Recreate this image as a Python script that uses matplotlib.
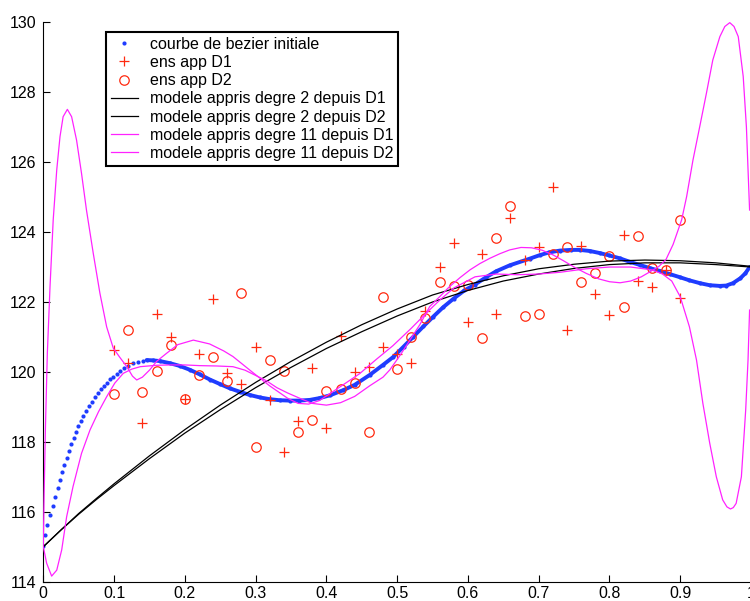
import numpy as np
import matplotlib
matplotlib.use("Agg")
import matplotlib.pyplot as plt

plt.rcParams['font.family'] = ['Liberation Sans', 'DejaVu Sans']

# --- Bezier curve ---
bez_x = [0.0, 0.0024, 0.0056, 0.0095, 0.0133, 0.0169, 0.0203, 0.0236, 0.0264, 0.0297,
         0.0331, 0.0367, 0.0395, 0.0429, 0.0462, 0.0494, 0.0527, 0.0565, 0.0603, 0.0641,
         0.0684, 0.0726, 0.0768, 0.0811, 0.0853, 0.0895, 0.0942, 0.0989, 0.1037, 0.1083,
         0.114, 0.1201, 0.1271, 0.1342, 0.1412, 0.146,
         0.1554, 0.1648, 0.179, 0.193, 0.2072, 0.221, 0.2355, 0.25, 0.2637, 0.278,
         0.2919, 0.306, 0.3202, 0.334, 0.3484, 0.362, 0.3767, 0.39, 0.405, 0.424,
         0.44, 0.461, 0.48, 0.494, 0.509, 0.523, 0.537, 0.551, 0.565, 0.58,
         0.595, 0.61, 0.625, 0.64, 0.6592, 0.6874, 0.7015, 0.715, 0.7298, 0.745,
         0.758, 0.772, 0.7863, 0.80, 0.8145, 0.8286, 0.8428, 0.857, 0.871, 0.885,
         0.8993, 0.913, 0.9275, 0.9416, 0.9558, 0.965, 0.9746, 0.985, 0.992, 0.9981]
bez_y = [115.02, 115.33, 115.62, 115.91, 116.16, 116.43, 116.67, 116.91, 117.13, 117.34,
         117.55, 117.75, 117.94, 118.12, 118.29, 118.45, 118.60, 118.75, 118.88, 119.02,
         119.15, 119.27, 119.39, 119.50, 119.60, 119.69, 119.79, 119.86, 119.94, 120.02,
         120.10, 120.18, 120.25, 120.29, 120.32, 120.34,
         120.33, 120.31, 120.25, 120.17, 120.06, 119.93, 119.78, 119.65, 119.53, 119.43,
         119.34, 119.27, 119.22, 119.19, 119.18, 119.18, 119.20, 119.25, 119.33, 119.48,
         119.63, 119.91, 120.20, 120.42, 120.72, 121.01, 121.30, 121.58, 121.85, 122.10,
         122.33, 122.50, 122.70, 122.88, 123.05, 123.24, 123.34, 123.42, 123.47, 123.49,
         123.49, 123.46, 123.40, 123.33, 123.25, 123.15, 123.06, 122.97, 122.89, 122.80,
         122.71, 122.62, 122.54, 122.48, 122.46, 122.47, 122.54, 122.68, 122.82, 123.00]

# --- training sets ---
app_x = [0.10, 0.12, 0.14, 0.16, 0.18, 0.20, 0.22, 0.24, 0.26, 0.28, 0.30, 0.32, 0.34, 0.36,
         0.38, 0.40, 0.42, 0.44, 0.46, 0.48, 0.50, 0.52, 0.54, 0.56, 0.58, 0.60, 0.62, 0.64,
         0.66, 0.68, 0.70, 0.72, 0.74, 0.76, 0.78, 0.80, 0.82, 0.84, 0.86, 0.88, 0.90]
d1_y = [120.63, 120.25, 118.55, 121.67, 120.99, 119.22, 120.50, 122.09, 119.97, 119.66,
        120.71, 119.20, 117.72, 118.61, 120.10, 118.39, 121.04, 120.01, 120.13, 120.70,
        120.51, 120.26, 121.75, 122.99, 123.70, 121.44, 123.38, 121.65, 124.41, 123.20,
        123.56, 125.30, 121.20, 123.61, 122.23, 121.63, 123.92, 122.61, 122.44, 122.92, 122.11]
d2_y = [119.36, 121.19, 119.43, 120.03, 120.76, 119.22, 119.92, 120.44, 119.74, 122.25,
        117.86, 120.34, 120.04, 118.28, 118.63, 119.45, 119.52, 119.67, 118.27, 122.14,
        120.07, 121.00, 121.55, 122.57, 122.46, 122.50, 120.96, 123.84, 124.76, 121.61,
        121.65, 123.36, 123.57, 122.56, 122.82, 123.32, 121.85, 123.88, 122.96, 122.92, 124.35]

# --- degree 2 models ---
q_x = [0.0, 0.025, 0.05, 0.075, 0.1, 0.15, 0.2, 0.25, 0.3, 0.35, 0.4, 0.45, 0.5, 0.55, 0.6,
       0.65, 0.7, 0.75, 0.8, 0.85, 0.9, 0.95, 1.0]
q1_y = [115.0, 115.48, 115.95, 116.38, 116.80, 117.60, 118.35, 119.05, 119.70, 120.30,
        120.85, 121.35, 121.80, 122.20, 122.50, 122.75, 122.95, 123.08, 123.17, 123.20,
        123.18, 123.12, 123.02]
q2_y = [115.0, 115.48, 115.93, 116.35, 116.75, 117.52, 118.25, 118.92, 119.55, 120.13,
        120.67, 121.15, 121.60, 122.00, 122.33, 122.60, 122.80, 122.96, 123.07, 123.12,
        123.12, 123.07, 123.00]

# --- degree 11 models ---
m1_x = [0.0, 0.0012, 0.003, 0.0057, 0.0095, 0.014, 0.019, 0.0236, 0.028, 0.034, 0.040, 0.047,
        0.054, 0.061, 0.0706, 0.080, 0.0895, 0.0989, 0.108, 0.118, 0.126, 0.132, 0.14, 0.15,
        0.160, 0.174, 0.19, 0.212, 0.235, 0.255, 0.268, 0.295, 0.32, 0.345, 0.36, 0.375,
        0.39, 0.405, 0.425, 0.447, 0.47, 0.494, 0.52, 0.541, 0.56, 0.58, 0.61, 0.64, 0.67,
        0.70, 0.73, 0.767, 0.8, 0.83, 0.86, 0.875, 0.888, 0.90, 0.913, 0.923, 0.932, 0.9417,
        0.951, 0.960, 0.966, 0.971, 0.975, 0.979, 0.9864, 0.9925, 0.9958, 0.998]
m1_y = [115.0, 116.5, 118.4, 120.53, 122.44, 124.35, 125.78, 126.73, 127.30, 127.51, 127.30,
        126.63, 125.68, 124.63, 123.39, 122.25, 121.29, 120.68, 120.42, 120.15, 119.88, 119.77,
        119.85, 120.05, 120.30, 120.53, 120.78, 120.91, 120.80, 120.60, 120.44, 120.00, 119.60,
        119.25, 119.10, 119.08, 119.18, 119.38, 119.65, 119.95, 120.35, 120.75, 121.25, 121.68,
        122.05, 122.40, 122.72, 122.80, 122.78, 122.80, 122.85, 122.95, 123.00, 123.00, 122.92,
        122.80, 122.60, 122.15, 121.29, 120.34, 119.10, 117.96, 117.00, 116.34, 116.14, 116.08,
        116.12, 116.24, 117.00, 118.91, 120.34, 121.77]
m2_x = [0.0, 0.0047, 0.0118, 0.019, 0.026, 0.033, 0.042, 0.054, 0.066, 0.078, 0.0895, 0.101,
        0.113, 0.125, 0.137, 0.16, 0.179, 0.20, 0.221, 0.245, 0.268, 0.285, 0.30, 0.315, 0.33,
        0.345, 0.362, 0.38, 0.40, 0.42, 0.44, 0.461, 0.48, 0.4897, 0.505, 0.518, 0.532, 0.546,
        0.56, 0.574, 0.589, 0.603, 0.617, 0.631, 0.645, 0.659, 0.675, 0.69, 0.705, 0.72, 0.735,
        0.75, 0.767, 0.785, 0.80, 0.815, 0.83, 0.845, 0.862, 0.87, 0.88, 0.89, 0.902, 0.909,
        0.918, 0.9275, 0.937, 0.946, 0.956, 0.963, 0.970, 0.976, 0.982, 0.989, 0.9935, 0.998]
m2_y = [115.0, 114.53, 114.16, 114.33, 114.91, 115.86, 116.72, 117.67, 118.34, 118.86, 119.29,
        119.68, 119.96, 120.08, 120.15, 120.19, 120.20, 120.20, 120.18, 120.17, 120.15, 120.05,
        119.90, 119.75, 119.55, 119.40, 119.25, 119.10, 119.05, 119.12, 119.30, 119.60, 119.85,
        120.06, 120.50, 120.91, 121.35, 121.87, 122.15, 122.44, 122.70, 122.92, 123.10, 123.25,
        123.38, 123.49, 123.56, 123.55, 123.48, 123.35, 123.18, 123.00, 122.82, 122.66, 122.58,
        122.55, 122.60, 122.72, 122.92, 123.02, 123.22, 123.65, 124.35, 125.01, 126.06, 127.01,
        127.97, 128.92, 129.59, 129.88, 129.99, 129.88, 129.59, 128.45, 127.01, 124.63]

labels = ["courbe de bezier initiale", "ens app D1", "ens app D2",
          "modele appris degre 2 depuis D1", "modele appris degre 2 depuis D2",
          "modele appris degre 11 depuis D1", "modele appris degre 11 depuis D2"]

BLUE = '#1f3cff'
RED = '#ff2a10'
MAG = '#ff22ff'

fig = plt.figure(figsize=(7.5, 6.01), dpi=100)
ax = fig.add_axes([43.3 / 750, (601 - 581.7) / 601, (751 - 43.3) / 750, (581.7 - 22.3) / 601])

n_sparse = 36
ax.plot(bez_x, bez_y, 'o', color=BLUE, ms=3.0, mew=0, label=labels[0], zorder=2)
ax.plot(bez_x[n_sparse - 1:], bez_y[n_sparse - 1:], '-', color=BLUE, lw=2.8,
        solid_capstyle='round', zorder=2)
ax.plot(app_x, d1_y, '+', color=RED, ms=7.5, mew=0.9, label=labels[1], zorder=3)
ax.plot(app_x, d2_y, 'o', color=RED, ms=6.8, mew=0.9, mfc='none', label=labels[2], zorder=3)
ax.plot(q_x, q1_y, '-', color='black', lw=0.9, label=labels[3], zorder=4)
ax.plot(q_x, q2_y, '-', color='black', lw=0.9, label=labels[4], zorder=4)
ax.plot(m1_x, m1_y, '-', color=MAG, lw=0.9, label=labels[5], zorder=5)
ax.plot(m2_x, m2_y, '-', color=MAG, lw=0.9, label=labels[6], zorder=5)

ax.set_xlim(0, 1)
ax.set_ylim(114, 130)
ax.set_xticks(np.arange(0, 1.01, 0.1))
ax.set_xticklabels(['0', '0.1', '0.2', '0.3', '0.4', '0.5', '0.6', '0.7', '0.8', '0.9', '1'])
ax.set_yticks(np.arange(114, 131, 2))
ax.spines['top'].set_visible(False)
ax.spines['right'].set_visible(False)
ax.tick_params(direction='in', length=5, width=0.8, labelsize=11.5)
ax.tick_params(axis='x', pad=3)
ax.tick_params(axis='y', pad=5)

leg = ax.legend(loc='upper left', bbox_to_anchor=((106 - 43.3) / 707.7, (581.7 - 32) / 559.4),
                borderaxespad=0, fontsize=11.5, numpoints=1, handlelength=1.69,
                handletextpad=0.76, labelspacing=0.2, borderpad=0.3, fancybox=False,
                framealpha=1, edgecolor='black')
leg.get_frame().set_linewidth(1.5)

fig.savefig('out.png', dpi=100)
